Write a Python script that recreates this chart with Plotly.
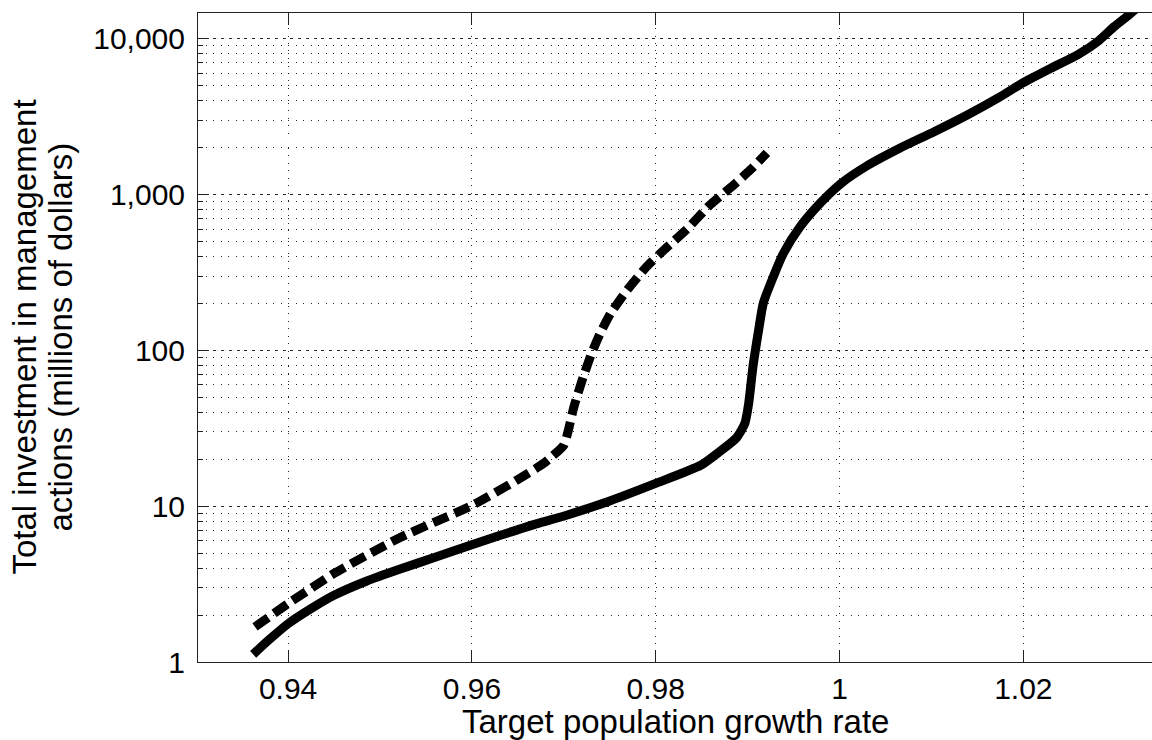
import plotly.graph_objects as go

# Target population growth rate vs. total investment (millions of dollars)
growth_solid = [0.9362, 0.9380, 0.9400, 0.9425, 0.9450, 0.9485, 0.9522, 0.9560,
                0.9600, 0.9631, 0.9670, 0.9703, 0.9750, 0.9800, 0.9849, 0.9870,
                0.9888, 0.9897, 0.9901, 0.9906, 0.9912, 0.9917, 0.9928, 0.9939,
                0.9957, 0.9979, 1.0001, 1.0030, 1.0066, 1.0103, 1.0139, 1.0175,
                1.0199, 1.0230, 1.0259, 1.0281, 1.0299, 1.0315, 1.0325]
invest_solid = [1.12, 1.40, 1.76, 2.20, 2.68, 3.30, 3.95, 4.70,
                5.65, 6.50, 7.70, 8.75, 10.8, 14.0, 18.3, 22.5,
                27.5, 34.0, 45.0, 80.0, 135, 200, 297, 420,
                620, 880, 1170, 1530, 1990, 2530, 3240, 4250,
                5190, 6470, 7880, 9600, 11970, 14230, 16000]

growth_dashed = [0.9364, 0.9400, 0.9450, 0.9522, 0.9600, 0.9649, 0.9678, 0.9700,
                 0.9705, 0.9711, 0.9720, 0.9730, 0.9740, 0.9751, 0.9769, 0.9790,
                 0.9809, 0.9834, 0.9859, 0.9885, 0.9903, 0.9921]
invest_dashed = [1.68, 2.37, 3.70, 6.30, 10.1, 14.7, 18.8, 24.6,
                 30.8, 43.4, 64.5, 95, 130, 173, 244, 344,
                 441, 600, 857, 1153, 1440, 1850]

x_ticks = [0.94, 0.96, 0.98, 1.0, 1.02]
x_tick_labels = ["0.94", "0.96", "0.98", "1", "1.02"]
y_ticks = [1, 10, 100, 1000, 10000]
y_tick_labels = ["1", "10", "100", "1,000", "10,000"]
y_minor_ticks = [m * 10 ** k for k in range(5) for m in range(2, 10)]

x_title = "Target population growth rate"
y_title_lines = ["Total investment in management", "actions (millions of dollars)"]

FONT = "Liberation Sans, Arial, sans-serif"
GRID = "rgba(0,0,0,0.85)"

fig = go.Figure()
fig.add_trace(go.Scatter(x=growth_solid, y=invest_solid, mode="lines",
                         line=dict(color="black", width=9, shape="spline", smoothing=0.6),
                         showlegend=False))
fig.add_trace(go.Scatter(x=growth_dashed, y=invest_dashed, mode="lines",
                         line=dict(color="black", width=9, dash="16px,7px",
                                   shape="spline", smoothing=0.5),
                         showlegend=False))

fig.update_layout(
    width=1152, height=740,
    margin=dict(l=198, r=0, t=13, b=78),
    paper_bgcolor="white", plot_bgcolor="white",
    font=dict(family=FONT, color="black"),
)

fig.update_xaxes(
    range=[0.9302, 1.034],
    tickvals=x_ticks, ticktext=x_tick_labels,
    tickfont=dict(size=30, family=FONT, color="black"),
    ticks="inside", ticklen=12, tickcolor="#222", tickwidth=1,
    showline=True, linecolor="#222", linewidth=1, mirror="ticks",
    showgrid=True, gridcolor=GRID, gridwidth=1, griddash="1px,6.5px",
    zeroline=False, ticklabelstandoff=0,
)

fig.update_yaxes(
    type="log", range=[0, 4.165],
    tickvals=y_ticks, ticktext=y_tick_labels,
    tickfont=dict(size=30, family=FONT, color="black"),
    ticks="inside", ticklen=9, tickcolor="#222", tickwidth=1,
    showline=True, linecolor="#222", linewidth=1, mirror=False,
    showgrid=True, gridcolor=GRID, gridwidth=1, griddash="3px,4.7px",
    minor=dict(tickvals=y_minor_ticks, ticks="inside", ticklen=5,
               tickcolor="#222", showgrid=True, gridcolor=GRID,
               gridwidth=1, griddash="1px,6.5px"),
    zeroline=False, ticklabelstandoff=6,
)

plot_w = 1152 - 198
plot_h = 740 - 13 - 78

fig.add_annotation(text=x_title, xref="paper", yref="paper",
                   x=0.5, y=-(721 - 662) / plot_h, xanchor="center", yanchor="middle",
                   showarrow=False, font=dict(size=33, family=FONT, color="black"))

for line_text, cx in zip(y_title_lines, [24, 60]):
    fig.add_annotation(text=line_text, xref="paper", yref="paper",
                       x=(cx - 198) / plot_w, y=0.5, xanchor="center", yanchor="middle",
                       textangle=-90, showarrow=False,
                       font=dict(size=33, family=FONT, color="black"))

fig.write_html("out.html")
